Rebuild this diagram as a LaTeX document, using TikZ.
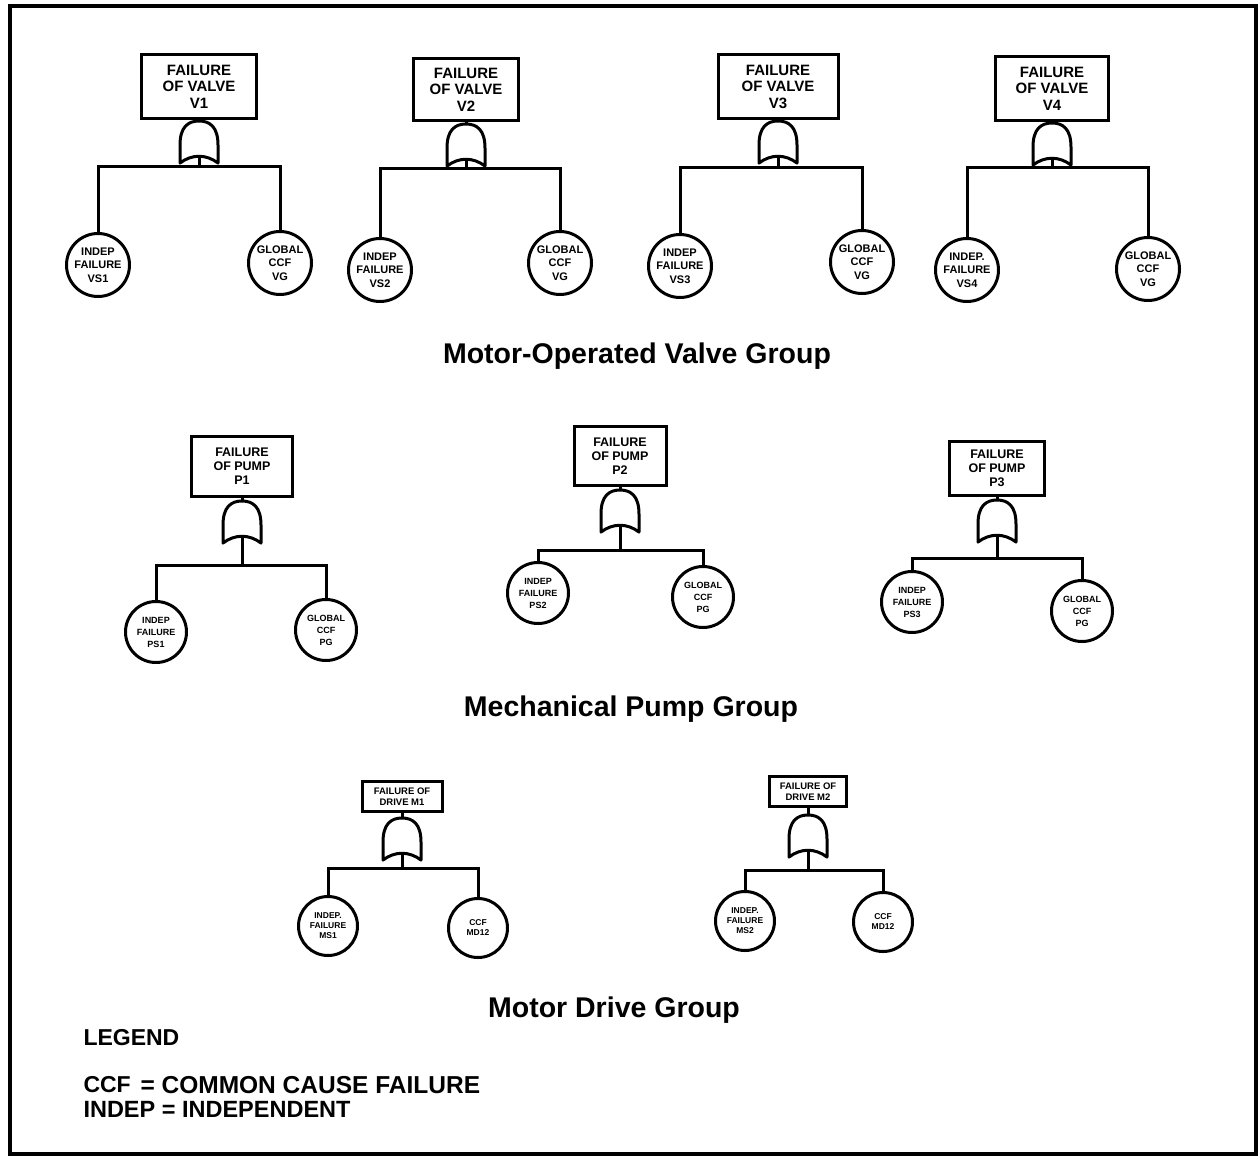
\documentclass[tikz,border=0pt]{standalone}
\usepackage{fontspec}
\setmainfont{Liberation Sans}
\newcommand\orgate[3]{%
  \begin{scope}[shift={(#2,#3)}]
    \draw[line width=3pt, line join=round] (-19,42) -- (-19,24) .. controls (-19,6) and (-11,0) .. (0,0)
      .. controls (11,0) and (19,6) .. (19,24) -- (19,42) .. controls (7,33) and (-7,33) .. (-19,42) -- cycle;
    \coordinate (#1in) at (0,0);
    \coordinate (#1out) at (0,35.5);
  \end{scope}}
\begin{document}
\begin{tikzpicture}[x=1pt,y=-1pt, line width=3pt,
  topbox/.style={draw, line width=3pt, align=center, inner sep=0pt},
  vtop/.style={topbox, font=\fontsize{15}{16.5}\selectfont\bfseries},
  ptop/.style={topbox, font=\fontsize{12.5}{14}\selectfont\bfseries},
  dtop/.style={topbox, font=\fontsize{9.5}{11}\selectfont\bfseries},
  ev/.style={draw, circle, line width=3pt, align=center, inner sep=0pt},
  vev/.style={ev, minimum size=63pt, font=\fontsize{11}{13.5}\selectfont\bfseries},
  pev/.style={ev, minimum size=61pt, font=\fontsize{9}{12}\selectfont\bfseries},
  dev/.style={ev, minimum size=59pt, font=\fontsize{8.5}{10}\selectfont\bfseries},
  title/.style={font=\fontsize{28.5}{32}\selectfont\bfseries},
  leg/.style={anchor=west, font=\fontsize{23}{26}\selectfont\bfseries, inner sep=0pt}]
\useasboundingbox (0,0) rectangle (1259,1157);
\draw[line width=4pt] (10,6) rectangle (1256,1154);

% ---------- Valve group ----------
\node[vtop, minimum width=115pt, minimum height=64pt] (bv1) at (199,86.5) {FAILURE\\OF VALVE\\V1};
\orgate{gv1}{199}{121}
\node[vev] (lv1) at (98,265) {INDEP\\FAILURE\\VS1};
\node[vev] (rv1) at (280,263) {GLOBAL\\CCF\\VG};
\coordinate (kv1) at (199,166);
\draw (bv1.south) -- (gv1in);
\draw (gv1out) -- (kv1);
\draw (lv1.north) |- (kv1) -| (rv1.north);

\node[vtop, minimum width=105pt, minimum height=62pt] (bv2) at (466,89.5) {FAILURE\\OF VALVE\\V2};
\orgate{gv2}{466}{124}
\node[vev] (lv2) at (380,270) {INDEP\\FAILURE\\VS2};
\node[vev] (rv2) at (560,263) {GLOBAL\\CCF\\VG};
\coordinate (kv2) at (466,168);
\draw (bv2.south) -- (gv2in);
\draw (gv2out) -- (kv2);
\draw (lv2.north) |- (kv2) -| (rv2.north);

\node[vtop, minimum width=120pt, minimum height=64pt] (bv3) at (778,86.5) {FAILURE\\OF VALVE\\V3};
\orgate{gv3}{778}{121}
\node[vev] (lv3) at (680,266) {INDEP\\FAILURE\\VS3};
\node[vev] (rv3) at (862,262) {GLOBAL\\CCF\\VG};
\coordinate (kv3) at (778,167);
\draw (bv3.south) -- (gv3in);
\draw (gv3out) -- (kv3);
\draw (lv3.north) |- (kv3) -| (rv3.north);

\node[vtop, minimum width=113pt, minimum height=64pt] (bv4) at (1052,88.5) {FAILURE\\OF VALVE\\V4};
\orgate{gv4}{1052}{123}
\node[vev] (lv4) at (967,270) {INDEP.\\FAILURE\\VS4};
\node[vev] (rv4) at (1148,269) {GLOBAL\\CCF\\VG};
\coordinate (kv4) at (1052,167);
\draw (bv4.south) -- (gv4in);
\draw (gv4out) -- (kv4);
\draw (lv4.north) |- (kv4) -| (rv4.north);

\node[title] (tv) at (637,356) {Motor-Operated Valve Group};

% ---------- Pump group ----------
\node[ptop, minimum width=101pt, minimum height=60pt] (bp1) at (242,466.5) {FAILURE\\OF PUMP\\P1};
\orgate{gp1}{242}{501}
\node[pev] (lp1) at (156,632) {INDEP\\FAILURE\\PS1};
\node[pev] (rp1) at (326,630) {GLOBAL\\CCF\\PG};
\coordinate (kp1) at (242,565);
\draw (bp1.south) -- (gp1in);
\draw (gp1out) -- (kp1);
\draw (lp1.north) |- (kp1) -| (rp1.north);

\node[ptop, minimum width=92pt, minimum height=59pt] (bp2) at (620,456) {FAILURE\\OF PUMP\\P2};
\orgate{gp2}{620}{490}
\node[pev] (lp2) at (538,593) {INDEP\\FAILURE\\PS2};
\node[pev] (rp2) at (703,597) {GLOBAL\\CCF\\PG};
\coordinate (kp2) at (620,550);
\draw (bp2.south) -- (gp2in);
\draw (gp2out) -- (kp2);
\draw (lp2.north) |- (kp2) -| (rp2.north);

\node[ptop, minimum width=95pt, minimum height=54pt] (bp3) at (997,468.5) {FAILURE\\OF PUMP\\P3};
\orgate{gp3}{997}{500}
\node[pev] (lp3) at (912,602) {INDEP\\FAILURE\\PS3};
\node[pev] (rp3) at (1082,611) {GLOBAL\\CCF\\PG};
\coordinate (kp3) at (997,558);
\draw (bp3.south) -- (gp3in);
\draw (gp3out) -- (kp3);
\draw (lp3.north) |- (kp3) -| (rp3.north);

\node[title] (tp) at (631,709) {Mechanical Pump Group};

% ---------- Motor drive group ----------
\node[dtop, minimum width=80pt, minimum height=30pt] (bd1) at (402,796.5) {FAILURE OF\\DRIVE M1};
\orgate{gd1}{402}{818}
\node[dev] (ld1) at (328,926) {INDEP.\\FAILURE\\MS1};
\node[dev] (rd1) at (478,928) {CCF\\MD12};
\coordinate (kd1) at (402,868);
\draw (bd1.south) -- (gd1in);
\draw (gd1out) -- (kd1);
\draw (ld1.north) |- (kd1) -| (rd1.north);

\node[dtop, minimum width=77pt, minimum height=30pt] (bd2) at (808,791.5) {FAILURE OF\\DRIVE M2};
\orgate{gd2}{808}{815}
\node[dev] (ld2) at (745,921) {INDEP.\\FAILURE\\MS2};
\node[dev] (rd2) at (883,922) {CCF\\MD12};
\coordinate (kd2) at (808,870);
\draw (bd2.south) -- (gd2in);
\draw (gd2out) -- (kd2);
\draw (ld2.north) |- (kd2) -| (rd2.north);

\node[title] (td) at (614,1010) {Motor Drive Group};

% ---------- Legend ----------
\node[leg] (lg) at (82,1038) {LEGEND};
\node[leg] (lc) at (82,1085) {CCF};
\node[leg, font=\fontsize{24.5}{26}\selectfont\bfseries] (lce) at (139,1085) {= COMMON CAUSE FAILURE};
\node[leg, font=\fontsize{23.5}{26}\selectfont\bfseries] (li) at (82,1109) {INDEP = INDEPENDENT};
\end{tikzpicture}
\end{document}
